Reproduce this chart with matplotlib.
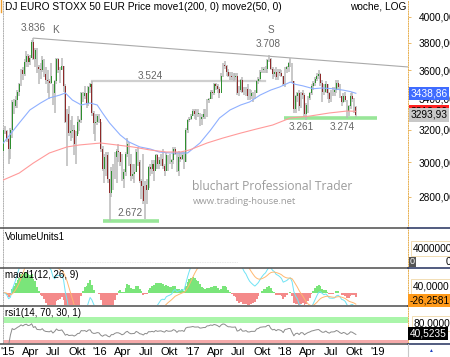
import numpy as np
import pandas as pd
import matplotlib
matplotlib.use("Agg")
import matplotlib.pyplot as plt
import matplotlib.dates as mdates
from matplotlib.lines import Line2D
from matplotlib.ticker import FixedLocator, FuncFormatter, NullLocator

plt.rcParams['font.family'] = ['Liberation Sans', 'DejaVu Sans']

# DJ EURO STOXX 50, weekly candles, week of 15 Dec 2014 .. week of 8 Oct 2018
first_week = "2014-12-15"
open0 = 3070
close = [3200, 3190, 3140, 3080, 3200, 3380, 3350, 3390, 3450, 3500,
         3600, 3570, 3660, 3700, 3660, 3690, 3810, 3680, 3750, 3620,
         3610, 3600, 3670, 3570, 3530, 3520, 3510, 3560, 3440, 3520,
         3680, 3600, 3600, 3630, 3490, 3250, 3300, 3180, 3190, 3200,
         3110, 3160, 3250, 3260, 3440, 3420, 3440, 3370, 3480, 3500,
         3310, 3240, 3250, 3290, 3270, 3080, 2960, 3030, 3040, 2900,
         2820, 2950, 2950, 3030, 3070, 3060, 3000, 2900, 2940, 3050,
         3110, 2990, 2920, 2930, 2940, 3060, 3000, 2890, 2860, 2780,
         2870, 2840, 2970, 2960, 2990, 2950, 3040, 2990, 3010, 3020,
         2980, 2950, 3040, 3000, 3000, 3010, 3080, 3050, 2950, 3030,
         3020, 3040, 3000, 3200, 3260, 3270, 3290, 3320, 3300, 3300,
         3310, 3270, 3280, 3300, 3300, 3390, 3400, 3450, 3440, 3500,
         3490, 3470, 3440, 3560, 3640, 3630, 3590, 3560, 3560, 3550,
         3550, 3560, 3440, 3460, 3530, 3450, 3450, 3470, 3420, 3420,
         3440, 3440, 3440, 3520, 3540, 3590, 3600, 3610, 3610, 3670,
         3680, 3610, 3570, 3590, 3550, 3590, 3580, 3560, 3500, 3610,
         3620, 3650, 3650, 3520, 3330, 3420, 3440, 3350, 3440, 3430,
         3300, 3360, 3410, 3440, 3490, 3510, 3540, 3560, 3570, 3510,
         3450, 3450, 3500, 3440, 3400, 3450, 3450, 3460, 3510, 3480,
         3420, 3380, 3420, 3390, 3320, 3350, 3420, 3400, 3345, 3293.93]
high = [3210, 3220, 3200, 3150, 3210, 3390, 3400, 3420, 3460, 3510,
        3610, 3620, 3680, 3740, 3720, 3710, 3820, 3836, 3760, 3760,
        3640, 3650, 3700, 3680, 3620, 3600, 3540, 3650, 3500, 3530,
        3690, 3690, 3620, 3690, 3630, 3500, 3330, 3350, 3260, 3290,
        3230, 3190, 3290, 3270, 3450, 3450, 3490, 3440, 3490, 3510,
        3524, 3320, 3300, 3300, 3300, 3250, 3100, 3050, 3060, 3060,
        2900, 2970, 2990, 3060, 3080, 3110, 3060, 3050, 2960, 3060,
        3150, 3120, 3050, 2990, 2990, 3080, 3090, 3010, 2900, 3050,
        2890, 2900, 2980, 2990, 3010, 3010, 3050, 3050, 3030, 3050,
        3080, 2990, 3060, 3040, 3050, 3020, 3090, 3090, 3060, 3070,
        3060, 3060, 3060, 3210, 3270, 3280, 3300, 3330, 3330, 3330,
        3330, 3310, 3300, 3330, 3330, 3400, 3410, 3460, 3460, 3510,
        3510, 3500, 3480, 3580, 3650, 3666, 3640, 3610, 3590, 3590,
        3580, 3580, 3580, 3490, 3540, 3550, 3480, 3480, 3500, 3470,
        3460, 3450, 3460, 3530, 3550, 3600, 3620, 3620, 3630, 3680,
        3708, 3690, 3620, 3610, 3620, 3610, 3610, 3600, 3560, 3620,
        3630, 3660, 3687, 3650, 3520, 3430, 3450, 3460, 3450, 3460,
        3440, 3370, 3420, 3450, 3500, 3520, 3550, 3580, 3600, 3580,
        3530, 3500, 3520, 3500, 3450, 3460, 3480, 3480, 3530, 3530,
        3500, 3420, 3440, 3450, 3390, 3360, 3440, 3450, 3410, 3350]
low = [2960, 3170, 3120, 2990, 3020, 3150, 3300, 3340, 3340, 3420,
       3490, 3530, 3560, 3620, 3620, 3640, 3690, 3670, 3620, 3580,
       3500, 3540, 3590, 3550, 3500, 3440, 3400, 3500, 3360, 3310,
       3500, 3580, 3510, 3600, 3450, 3240, 2980, 3160, 3130, 3150,
       3040, 2990, 3170, 3190, 3240, 3380, 3400, 3340, 3350, 3440,
       3290, 3170, 3130, 3230, 3240, 3060, 2950, 2880, 2920, 2880,
       2672, 2800, 2840, 2900, 2880, 3000, 2980, 2890, 2850, 2920,
       3030, 2980, 2890, 2900, 2880, 2940, 2980, 2880, 2790, 2760,
       2678, 2760, 2850, 2920, 2930, 2890, 2960, 2960, 2960, 2980,
       2960, 2920, 2950, 2950, 2990, 2960, 2990, 3040, 2940, 2920,
       3000, 3010, 2960, 3000, 3180, 3250, 3260, 3290, 3270, 3260,
       3280, 3220, 3230, 3270, 3270, 3280, 3370, 3400, 3400, 3430,
       3460, 3440, 3410, 3520, 3550, 3610, 3560, 3550, 3530, 3530,
       3520, 3530, 3430, 3420, 3450, 3440, 3430, 3420, 3390, 3390,
       3400, 3380, 3400, 3440, 3500, 3520, 3580, 3580, 3580, 3580,
       3660, 3600, 3540, 3550, 3530, 3530, 3560, 3550, 3490, 3480,
       3580, 3590, 3620, 3510, 3310, 3310, 3380, 3320, 3340, 3400,
       3280, 3261, 3310, 3390, 3430, 3460, 3490, 3520, 3540, 3490,
       3380, 3430, 3440, 3400, 3370, 3380, 3420, 3420, 3440, 3460,
       3410, 3350, 3370, 3380, 3274, 3290, 3330, 3380, 3310, 3280]

# moving averages (week index -> value)
ma50_wk = [0, 9, 15, 21, 26, 32, 35, 39, 44, 49, 53, 56, 60, 66, 71, 77, 83, 88, 94,
           100, 104, 111, 117, 122, 128, 134, 139, 145, 151, 156, 162, 165, 169, 175,
           180, 186, 192, 196, 199]
ma50_val = [3116, 3242, 3327, 3373, 3407, 3427, 3441, 3393, 3360, 3373, 3360, 3307, 3242,
            3166, 3122, 3092, 3079, 3061, 3055, 3055, 3055, 3116, 3197, 3274, 3327, 3360,
            3380, 3427, 3461, 3482, 3516, 3500, 3490, 3470, 3475, 3470, 3460, 3450, 3438.86]
ma200_wk = [0, 9, 17, 26, 36, 43, 55, 64, 73, 83, 92, 100, 105, 115, 124, 134, 143, 152,
            162, 173, 184, 194, 199]
ma200_val = [2896, 2936, 2995, 3055, 3092, 3104, 3116, 3104, 3092, 3073, 3061, 3061, 3073,
             3116, 3147, 3178, 3204, 3229, 3274, 3287, 3307, 3320, 3318]

# drawn lines and marked levels
trend_dates = ["2015-04-13", "2019-05-01"]
trend_vals = [3836, 3623]
resist_dates = ["2015-11-30", "2017-10-14"]
resist_val = 3524
support1_dates = ["2016-01-13", "2016-08-21"]
support1_val = 2672
support2_dates = ["2017-12-28", "2018-12-30"]
support2_val = 3272

price_ticks = [2800, 3000, 3200, 3400, 3600, 3800, 4000]
macd_last = "-26,2581"
rsi_last = "40,5235"
month_names = {4: "Apr", 7: "Jul", 10: "Okt"}

W, H = 450, 357
fig = plt.figure(figsize=(W / 100, H / 100), dpi=100)


def axes_px(x0, y0, x1, y1):
    return fig.add_axes([x0 / W, 1 - y1 / H, (x1 - x0) / W, (y1 - y0) / H])


def fx(x):
    return x / W


def fy(y):
    return 1 - y / H


ax = axes_px(3, 0, 408, 228)
ax_vol = axes_px(3, 229, 408, 267)
ax_macd = axes_px(3, 268, 408, 305)
ax_rsi = axes_px(3, 306, 408, 343)

base = mdates.date2num(pd.Timestamp("2015-01-01"))
xlim = (base - 18.2, base + 1582)

close = np.array(close, dtype=float)
high = np.array(high, dtype=float)
low = np.array(low, dtype=float)
dates = pd.date_range(first_week, periods=len(close), freq="7D")
x = mdates.date2num(dates)
opens = np.r_[open0, close[:-1]]
up = close >= opens

# --- price panel
ax.set_yscale("log")
ax.vlines(x, low, high, color="#b9b9b9", lw=1.1, zorder=2)
ax.bar(x[up], (close - opens)[up], bottom=opens[up], width=3.2, color="#2f8f2f", lw=0, zorder=3)
ax.bar(x[~up], (opens - close)[~up], bottom=close[~up], width=3.2, color="#8e2a2a", lw=0, zorder=3)

ax.plot(x[ma50_wk], ma50_val, color="#8fb0ff", lw=0.8, zorder=4)
ax.plot(x[ma200_wk], ma200_val, color="#ff9a9a", lw=0.8, zorder=4)

ax.plot(mdates.datestr2num(trend_dates), trend_vals, color="#aaaaaa", lw=0.8, zorder=1)
ax.plot(mdates.datestr2num(resist_dates), [resist_val] * 2, color="#cfcfcf", lw=1.6, zorder=1)
ax.plot(mdates.datestr2num(support1_dates), [support1_val] * 2, color="#98e698", lw=2.6,
        zorder=1, solid_capstyle="butt")
ax.plot(mdates.datestr2num(support2_dates), [support2_val] * 2, color="#98e698", lw=2.6,
        zorder=1, solid_capstyle="butt")

note = dict(color="#666666", fontsize=7.2, ha="center", va="center", zorder=6)
ax.text(mdates.datestr2num("2015-04-11"), 3914, "3.836", **note)
ax.text(mdates.datestr2num("2015-07-11"), 3898, "K", **note)
ax.text(mdates.datestr2num("2016-07-17"), 3562, "3.524", **note)
ax.text(mdates.datestr2num("2017-11-07"), 3898, "S", **note)
ax.text(mdates.datestr2num("2017-10-26"), 3792, "3.708", **note)
ax.text(mdates.datestr2num("2018-03-05"), 3217, "3.261", **note)
ax.text(mdates.datestr2num("2018-08-14"), 3217, "3.274", **note)
ax.text(mdates.datestr2num("2016-04-29"), 2715, "2.672", **note)

ax.set_xlim(xlim)
ax.set_ylim(2633, 4137)
ax.yaxis.tick_right()
ax.yaxis.set_major_locator(FixedLocator(price_ticks))
ax.yaxis.set_minor_locator(NullLocator())
ax.yaxis.set_major_formatter(FuncFormatter(lambda v, p: f"{v:.2f}".replace(".", ",")))
ax.tick_params(axis="y", length=2, width=0.6, color="#e8b050", pad=5.5, labelsize=7.3)
ax.set_xticks([])

fig.text(fx(5), fy(6.5), "DJ EURO STOXX 50 EUR Price move1(200, 0) move2(50, 0)",
         fontsize=7.3, va="center", ha="left")
fig.text(fx(406), fy(6.5), "woche, LOG", fontsize=7.3, va="center", ha="right")

fig.text(fx(192), fy(186), "bluchart Professional Trader", fontsize=8.7, color="#9c9c9c",
         family="Open Sans", va="center", ha="left")
fig.text(fx(193), fy(201.5), "www.trading-house.net", fontsize=6.8, color="#9c9c9c",
         family="Open Sans", va="center", ha="left")

yt = ax.get_yaxis_transform()
box = dict(boxstyle="square,pad=0.15", lw=0)
ax.text(1.006, ma200_val[-1], f"{ma200_val[-1]:.2f}".replace(".", ","), transform=yt,
        fontsize=7.3, va="center", ha="left", clip_on=False, zorder=7,
        bbox=dict(box, fc="#ff2020"))
ax.text(1.006, close[-1], f"{close[-1]:.2f}".replace(".", ","), transform=yt,
        fontsize=7.3, va="center", ha="left", clip_on=False, zorder=8,
        bbox=dict(box, fc="#c8c8c8"))
ax.text(1.006, ma50_val[-1], f"{ma50_val[-1]:.2f}".replace(".", ","), transform=yt,
        fontsize=7.3, va="center", ha="left", clip_on=False, zorder=9, color="white",
        bbox=dict(box, fc="#3f6cff"))

# --- volume panel (no volume data in this feed)
ax_vol.set_xlim(xlim)
ax_vol.set_ylim(0, 1)
ax_vol.axhline(0.12, xmax=(238 - 3) / 405, color="#dddddd", lw=0.6, ls=(0, (1, 1)))
fig.text(fx(5), fy(237), "VolumeUnits1", fontsize=7, va="center")
fig.text(fx(413), fy(248.5), "4000000", fontsize=7.3, va="center",
         bbox=dict(boxstyle="square,pad=0.2", fc="white", ec="#f0d8a8", lw=0.6))
fig.text(fx(410), fy(262), "0", fontsize=6.5, va="center", color="white",
         bbox=dict(boxstyle="square,pad=0.1", fc="#555555", lw=0))
fig.text(fx(446), fy(262), "0", fontsize=7.3, va="center")

# --- MACD panel
s = pd.Series(close)
macd = s.ewm(span=12, adjust=False).mean() - s.ewm(span=26, adjust=False).mean()
signal = macd.ewm(span=9, adjust=False).mean()
hist = (macd - signal).to_numpy()
ax_macd.bar(x, hist, width=7, color=np.where(hist >= 0, "#7ae57a", "#f48a8a"), lw=0)
ax_macd.plot(x, macd, color="#6fe3f5", lw=0.7)
ax_macd.plot(x, signal, color="#ffb870", lw=0.7)
ax_macd.set_xlim(xlim)
ax_macd.set_ylim(-28, 56)
fig.text(fx(5), fy(275), "macd1(12, 26, 9)", fontsize=7, va="center")
fig.text(fx(413), fy(286.5), "40,0000", fontsize=7.3, va="center",
         bbox=dict(boxstyle="square,pad=0.2", fc="white", ec="#f0d8a8", lw=0.6))
fig.text(fx(410), fy(300.5), macd_last, fontsize=7.3, va="center",
         bbox=dict(boxstyle="square,pad=0.15", fc="#ff9a1a", lw=0))

# --- RSI panel
d = s.diff()
gain = d.clip(lower=0).ewm(alpha=1 / 14, adjust=False).mean()
loss = (-d.clip(upper=0)).ewm(alpha=1 / 14, adjust=False).mean()
rsi = 100 - 100 / (1 + gain / loss)
ax_rsi.axhspan(80, 100, color="#aaf5aa", lw=0)
ax_rsi.axhspan(0, 20, color="#f5aaaa", lw=0)
ax_rsi.plot(x, rsi, color="#8a8a8a", lw=0.7)
ax_rsi.set_xlim(xlim)
ax_rsi.set_ylim(8, 141)
fig.text(fx(5), fy(313), "rsi1(14, 70, 30, 1)", fontsize=7, va="center")
fig.text(fx(414), fy(323.5), "80,0000", fontsize=7.3, va="center",
         bbox=dict(boxstyle="square,pad=0.2", fc="white", ec="#f0d8a8", lw=0.6))
fig.text(fx(410), fy(333.5), rsi_last, fontsize=7.3, va="center", color="white",
         bbox=dict(boxstyle="square,pad=0.15", fc="black", lw=0))

# x axis: quarter ticks with German month names
tick_dates = pd.date_range("2015-01-01", "2019-01-01", freq="QS")
ax_rsi.set_xticks(mdates.date2num(tick_dates))
ax_rsi.set_xticklabels([("'" + t.strftime("%y")) if t.month == 1 else month_names[t.month]
                        for t in tick_dates])
ax_rsi.tick_params(axis="x", length=0, pad=3, labelsize=8)

for a in (ax, ax_vol, ax_macd, ax_rsi):
    for side in ("top", "bottom"):
        a.spines[side].set_visible(False)
    a.spines["left"].set(color="#b0b0b0", lw=0.7, ls=(0, (1, 1.5)))
    a.spines["right"].set(color="#e8b050", lw=0.7, ls=(0, (1, 1.5)))
    a.set_facecolor("none")
for a in (ax_vol, ax_macd, ax_rsi):
    a.set_yticks([])
    if a is not ax_rsi:
        a.set_xticks([])

for ysep in (228.5, 267.5, 305.5, 343.5):
    fig.add_artist(Line2D([0, fx(408)], [fy(ysep)] * 2, color="#5a5a5a", lw=1.2))
    fig.add_artist(Line2D([fx(408), 1], [fy(ysep)] * 2, color="#33406a", lw=1.2))
fig.add_artist(Line2D([fx(408)] * 2, [fy(344), 0], color="#c8c8c8", lw=0.8))
fig.add_artist(Line2D([fx(0.6)] * 2, [1, fy(12)], color="#f0a030", lw=1))
fig.text(fx(430), fy(351), "\u25b2", fontsize=3.5, color="#2040c0", ha="center", va="center")

fig.savefig("out.png", dpi=100)
